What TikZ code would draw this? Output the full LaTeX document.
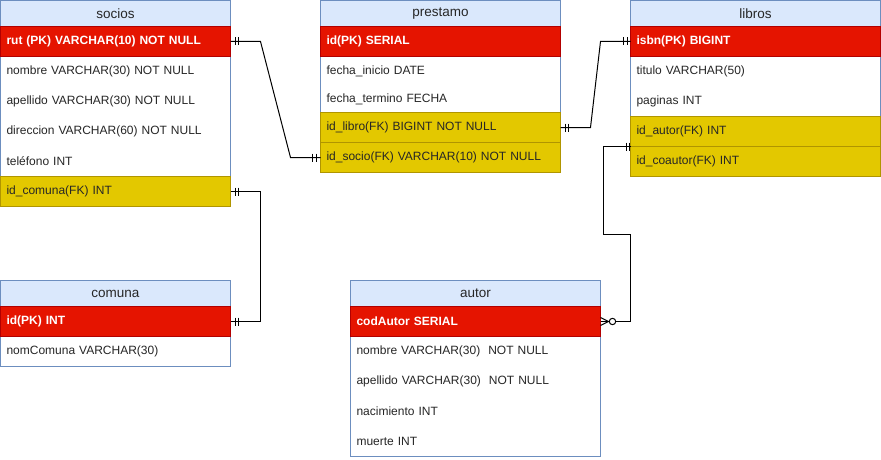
\documentclass[tikz,border=0pt]{standalone}
\usepackage{fontspec}
\setmainfont{Liberation Sans}
\usetikzlibrary{calc}
\definecolor{hdrfill}{HTML}{DAE8FC}
\definecolor{hdrline}{HTML}{6C8EBF}
\definecolor{pkfill}{HTML}{E51400}
\definecolor{pkline}{HTML}{B20000}
\definecolor{fkfill}{HTML}{E3C800}
\definecolor{fkline}{HTML}{B09500}
\tikzset{
  base/.style={anchor=north west, inner xsep=6pt, inner ysep=0pt, outer sep=0pt,
    minimum height=30pt, font=\fontsize{12}{14}\selectfont, align=left, text=black!85},
  hdr/.style={base, inner xsep=0pt, minimum height=26pt, align=center,
    draw=hdrline, fill=hdrfill, font=\fontsize{13.5}{16}\selectfont},
  pk/.style={base, draw=pkline, fill=pkfill, text=white, font=\fontsize{12}{14}\selectfont\bfseries},
  fk/.style={base, draw=fkline, fill=fkfill},
  plain/.style={base},
  outline/.style={draw=hdrline, line width=1pt},
  conn/.style={draw=black, line width=1pt},
  bar/.style={draw=black, line width=1pt}
}
\begin{document}
\begin{tikzpicture}[x=1pt,y=-1pt]
\useasboundingbox[fill=white] (-0.5,-0.5) rectangle (880.5,459.5);

% ---------- socios ----------
\node[hdr, text width=230pt] (sh) at (0,0) {socios};
\node[plain, text width=218pt] (s2) at (0,56) {nombre VARCHAR(30) NOT NULL};
\node[plain, text width=218pt] (s3) at (0,86) {apellido VARCHAR(30) NOT NULL};
\node[plain, text width=218pt] (s4) at (0,116) {direccion VARCHAR(60) NOT NULL};
\node[plain, text width=218pt] (s5) at (0,146) {teléfono INT};
\draw[outline] (sh.north west) rectangle (s5.south east);
\node[pk, text width=218pt] (s1) at (0,26) {rut (PK) VARCHAR(10) NOT NULL};
\node[fk, text width=218pt] (s6) at (0,176) {id\_comuna(FK) INT};

% ---------- prestamo ----------
\node[hdr, text width=240pt] (ph) at (320,0) {prestamo};
\node[plain, text width=228pt] (p2) at (320,56) {fecha\_inicio DATE};
\node[plain, text width=228pt, minimum height=26pt] (p3) at (320,86) {fecha\_termino FECHA};
\draw[outline] (ph.north west) rectangle (p3.south east);
\node[pk, text width=228pt] (p1) at (320,26) {id(PK) SERIAL};
\node[fk, text width=228pt] (p4) at (320,112) {id\_libro(FK) BIGINT NOT NULL};
\node[fk, text width=228pt] (p5) at (320,142) {id\_socio(FK) VARCHAR(10) NOT NULL};

% ---------- libros ----------
\node[hdr, text width=250pt] (lh) at (630,0) {libros};
\node[plain, text width=238pt] (l2) at (630,56) {titulo VARCHAR(50)};
\node[plain, text width=238pt] (l3) at (630,86) {paginas INT};
\draw[outline] (lh.north west) rectangle (l3.south east);
\node[pk, text width=238pt] (l1) at (630,26) {isbn(PK) BIGINT};
\node[fk, text width=238pt] (l4) at (630,116) {id\_autor(FK) INT};
\node[fk, text width=238pt] (l5) at (630,146) {id\_coautor(FK) INT};

% ---------- comuna ----------
\node[hdr, text width=230pt] (ch) at (0,280) {comuna};
\node[plain, text width=218pt] (c2) at (0,336) {nomComuna VARCHAR(30)};
\draw[outline] (ch.north west) rectangle (c2.south east);
\node[pk, text width=218pt] (c1) at (0,306) {id(PK) INT};

% ---------- autor ----------
\node[hdr, text width=250pt] (ah) at (350,280) {autor};
\node[plain, text width=238pt] (a2) at (350,336) {nombre VARCHAR(30)~ NOT NULL};
\node[plain, text width=238pt] (a3) at (350,366) {apellido VARCHAR(30)~ NOT NULL};
\node[plain, text width=238pt] (a4) at (350,396) {nacimiento INT};
\node[plain, text width=238pt] (a5) at (350,426) {muerte INT};
\draw[outline] (ah.north west) rectangle (a5.south east);
\node[pk, text width=238pt] (a1) at (350,306) {codAutor SERIAL};

% ---------- connectors ----------
\draw[conn] (s1.east) -- ++(30,0) -- ($(p5.west)+(-30,0)$) -- (p5.west);
\draw[conn] (p4.east) -- ++(30,0) -- ($(l1.west)+(-30,0)$) -- (l1.west);
\draw[conn] (s6.east) -- ++(30,0) |- (c1.east);
\draw[conn] (l4.south west) -- ++(-27,0) -- ++(0,88) -- ++(27,0) -- (l4.west |- a1.east) -- (a1.east);

% ---------- markers (one and only one) ----------
\foreach \n/\d in {s1/5,s1/8,p4/5,p4/8,s6/5,s6/8,c1/5,c1/8}
  \draw[bar] ([xshift=\d pt]\n.east) +(0,-4) -- +(0,4);
\foreach \n/\d in {p5/8,p5/4.5,l1/7,l1/3.5}
  \draw[bar] ([xshift=-\d pt]\n.west) +(0,-4) -- +(0,4);
\foreach \d in {4,1}
  \draw[bar] ([xshift=-\d pt]l4.south west) +(0,-4) -- +(0,4);

% ---------- zero or many at autor ----------
\draw[conn] ($(a1.east)+(8,0)$) -- ($(a1.east)+(0,-4)$)
            ($(a1.east)+(8,0)$) -- ($(a1.east)+(0,4)$);
\draw[conn, fill=white] ($(a1.east)+(12,0)$) circle (3.2pt);
\end{tikzpicture}
\end{document}
